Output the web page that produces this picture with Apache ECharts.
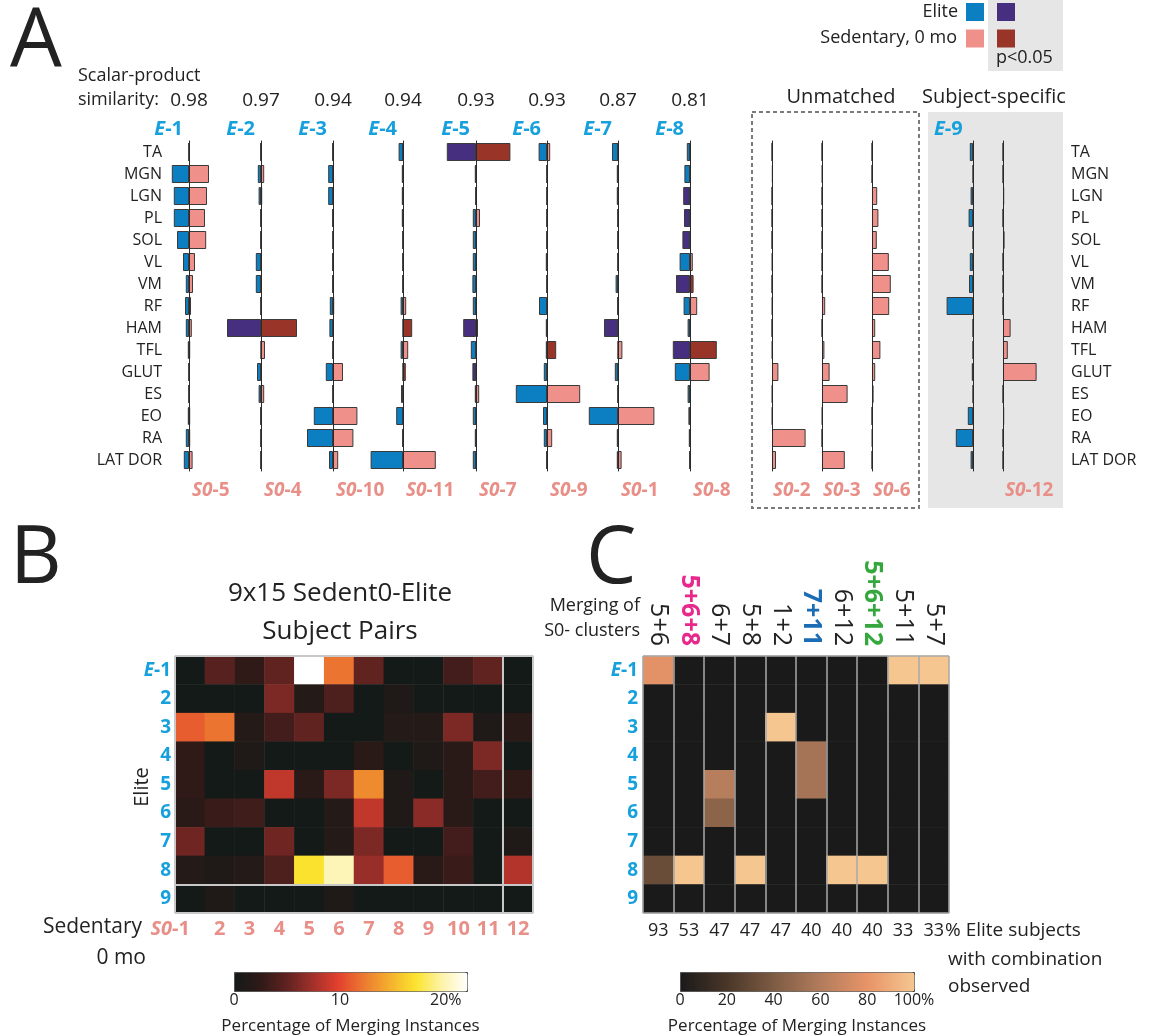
<!DOCTYPE html>
<html><head><meta charset="utf-8">
<script src="https://cdn.jsdelivr.net/npm/echarts@6/dist/echarts.min.js"></script>
<style>html,body{margin:0;padding:0;background:#fff;}#c{width:1158px;height:1036px;}</style>
</head><body><div id="c"></div>
<script>
// ---------------- DATA ----------------
const muscles = ['TA','MGN','LGN','PL','SOL','VL','VM','RF','HAM','TFL','GLUT','ES','EO','RA','LAT DOR'];
const similarity = ['0.98','0.97','0.94','0.94','0.93','0.93','0.87','0.81'];
const matchedElite = ['E-1','E-2','E-3','E-4','E-5','E-6','E-7','E-8'];
const matchedSed = ['S0-5','S0-4','S0-10','S0-11','S0-7','S0-9','S0-1','S0-8'];
// synergy weights (elite drawn to the left, sedentary to the right)
const eliteW = [
  [0,0.43,0.38,0.38,0.30,0.15,0.08,0.10,0.08,0.03,0,0,0.03,0.08,0.13],
  [0.01,0.08,0.06,0.01,0.01,0.13,0.13,0,0.85,0,0.10,0.06,0.01,0,0],
  [0.01,0.12,0.12,0.01,0,0.01,0.01,0.08,0.09,0,0.18,0,0.48,0.65,0.10],
  [0.11,0.03,0.03,0.03,0,0,0,0.06,0,0.06,0,0.05,0.17,0.01,0.81],
  [0.73,0.03,0.01,0.08,0.08,0.08,0.09,0.08,0.32,0.13,0.09,0.03,0.08,0.03,0.08],
  [0.21,0,0,0,0,0.03,0,0.20,0.03,0.03,0.08,0.78,0.10,0.08,0.01],
  [0.15,0.03,0.03,0,0,0,0.06,0.01,0.35,0,0.08,0,0.73,0.03,0.03],
  [0.08,0.14,0.17,0.15,0.19,0.26,0.35,0.16,0.06,0.43,0.38,0.06,0.04,0.03,0.01]
];
const sedW = [
  [0,0.50,0.45,0.40,0.43,0.15,0.10,0.05,0.07,0.03,0,0,0.03,0.03,0.09],
  [0.01,0.08,0.03,0.01,0.01,0,0,0,0.90,0.10,0.01,0.08,0.01,0,0],
  [0.01,0,0,0,0,0,0,0.03,0,0,0.25,0,0.61,0.51,0.13],
  [0,0,0,0,0,0,0,0.08,0.23,0.13,0.07,0.01,0,0,0.82],
  [0.86,0,0,0.10,0,0,0.01,0,0.05,0.01,0,0.08,0,0,0],
  [0.08,0,0,0,0,0,0,0.01,0,0.23,0.01,0.83,0.01,0.13,0],
  [0,0,0,0,0,0,0,0,0,0.11,0,0,0.91,0,0.09],
  [0,0,0,0,0,0.07,0.09,0.18,0,0.67,0.49,0,0,0,0]
];
// indices of muscles with p<0.05
const eliteSig = [[],[8],[],[],[0,8,10],[],[8],[2,3,4,6,9]];
const sedSig   = [[],[8],[],[8,10],[0,8],[9],[],[6,9]];
const unmatchedSed = ['S0-2','S0-3','S0-6'];
const unmatchedW = [
  [0,0.02,0,0,0,0.01,0,0.01,0,0.01,0.16,0.01,0.01,0.84,0.10],
  [0,0.01,0,0,0,0,0,0.08,0,0.06,0.19,0.64,0.01,0,0.57],
  [0,0,0.13,0.16,0.12,0.42,0.47,0.43,0.08,0.21,0.08,0.04,0,0.01,0]
];
const specificElite = 'E-9';
const specificEliteW = [0.08,0,0.06,0.11,0,0.08,0.10,0.66,0,0,0.03,0,0.13,0.43,0.06];
const specificSed = 'S0-12';
const specificSedW = [0,0,0.03,0,0.04,0,0,0,0.19,0.12,0.84,0,0.03,0,0];

// Panel B
const sedClusters = ['S0-1','2','3','4','5','6','7','8','9','10','11','12'];
const eliteSubjects = ['E-1','2','3','4','5','6','7','8','9'];
const pairPct = [
  [0,4.5,2.5,5,22,12,5,0,0,3.5,5,0],
  [0,0,0,6,1.5,4,0,1,0,0,0,0],
  [11,12,1.5,3.5,5,0,0,1.5,1.5,6,1,2],
  [2.5,0,1,0,0,0,2,0,1,2,6,0],
  [2.5,0,0,8.5,2,6,13,1,0,2,3.5,2.5],
  [2,3,3.3,0,0,1.5,8.5,1,6.5,2,0,0],
  [5.5,0,0,5.5,0,1.5,6,0,0,3.5,0,1],
  [1.5,1,1.5,4,17,20,7,11,2,3,0,8],
  [0,1,0,0,0,1,0,0,0,0,0,0]
];
const pairTicks = [0,10,20];

// Panel C
const combos = ['5+6','5+6+8','6+7','5+8','1+2','7+11','6+12','5+6+12','5+11','5+7'];
const comboSubjectPct = ['93','53','47','47','47','40','40','40','33','33'];
const comboPct = [
  [78,0,0,0,0,0,0,0,100,100],
  [0,0,0,0,0,0,0,0,0,0],
  [0,0,0,0,100,0,0,0,0,0],
  [0,0,0,0,0,55,0,0,0,0],
  [0,0,62,0,0,55,0,0,0,0],
  [0,0,45,0,0,0,0,0,0,0],
  [0,0,0,0,0,0,0,0,0,0],
  [32,100,0,100,0,0,100,100,0,0],
  [0,0,0,0,0,0,0,0,0,0]
];

// ---------------- STYLE / LAYOUT ----------------
const FONT = '"Open Sans", "Noto Sans", sans-serif';
const BLUE='#0b7fc1', PURPLE='#472f7f', PINK='#f0908a', DRED='#993429';
const LBLUE='#16a0dc', LPINK='#e88f88';
const HILITE = {'5+6+8':'#e8288a','7+11':'#1a6db4','5+6+12':'#34a83c'};
const SCALE = 40;             // px per unit weight
const A_TOP = 141, A_H = 330;
const colX = [189,261,333,403,476,547,618,690];
const unmatchedX = [772,822,872];
const e9X = 973, s12X = 1003;

const grids=[], xAxes=[], yAxes=[], series=[], graphics=[];
function addGrid(g, xa, ya){
  const gi=grids.length; grids.push(g);
  xa.gridIndex=gi; ya.gridIndex=gi; xAxes.push(xa); yAxes.push(ya);
  return {gi, xi:xAxes.length-1, yi:yAxes.length-1};
}
function barColumn(cx, eVals, sVals, eSig, sSig){
  const {xi, yi} = addGrid({left:cx-SCALE, top:A_TOP, width:2*SCALE, height:A_H},
    {type:'value', min:-1, max:1, show:false},
    {type:'category', data:muscles, inverse:true, z:3,
     axisLine:{show:true,onZero:true,lineStyle:{color:'#2a2a2a',width:1}},
     axisTick:{show:false}, axisLabel:{show:false}, splitLine:{show:false}});
  const common = {type:'bar', xAxisIndex:xi, yAxisIndex:yi, barWidth:18, barGap:'-100%',
    silent:true, animation:false, itemStyle:{borderColor:'#3a3a3a', borderWidth:1}};
  if (eVals) series.push(Object.assign({}, common, {
    data: eVals.map((v,i)=>({value:-v, itemStyle:{color:(eSig||[]).includes(i)?PURPLE:BLUE}}))}));
  if (sVals) series.push(Object.assign({}, common, {
    data: sVals.map((v,i)=>({value:v, itemStyle:{color:(sSig||[]).includes(i)?DRED:PINK}}))}));
}
function txt(x,y,text,o){
  o=o||{};
  const st = {text, fill:o.fill||'#222', fontSize:o.size||18, fontFamily:FONT,
    fontWeight:o.weight||'normal', fontStyle:o.italic?'italic':'normal',
    align:o.align||'left', verticalAlign:'middle', textAlign:o.align||'left', textVerticalAlign:'middle'};
  if (o.rich) st.rich=o.rich;
  graphics.push({type:'text', x, y, rotation:o.rot||0, silent:true, z:5, style:st});
}
function richLabel(lbl, color, size){
  const m = lbl.match(/^(E|S0)(-\d+)$/);
  return {text:'{i|'+m[1]+'}{b|'+m[2]+'}', rich:{
    i:{fontStyle:'italic',fontWeight:'bold',fill:color,fontSize:size,fontFamily:FONT},
    b:{fontWeight:'bold',fill:color,fontSize:size,fontFamily:FONT}}};
}

// ---------------- PANEL A ----------------
graphics.push({type:'rect', z:-1, silent:true, shape:{x:928,y:112,width:135,height:396}, style:{fill:'#e6e6e6'}});
graphics.push({type:'rect', z:-1, silent:true, shape:{x:988,y:0,width:75,height:71}, style:{fill:'#e6e6e6'}});
graphics.push({type:'rect', z:1, silent:true, shape:{x:752,y:112,width:167,height:396},
  style:{fill:'none', stroke:'#7a7a7a', lineWidth:2, lineDash:[4,3]}});
[[966,3,BLUE],[997,3,PURPLE],[966,29.5,PINK],[997,29.5,DRED]].forEach(r=>{
  graphics.push({type:'rect', silent:true, z:2, shape:{x:r[0],y:r[1],width:18,height:18}, style:{fill:r[2]}});
});
txt(958,12,'Elite',{align:'right'});
txt(957,38,'Sedentary, 0 mo',{align:'right'});
txt(996,58,'p<0.05',{});
txt(10,44,'A',{size:82});
txt(78,76,'Scalar-product',{});
txt(78,100,'similarity:',{});
txt(841,97,'Unmatched',{size:20,align:'center'});
txt(994,97,'Subject-specific',{size:20,align:'center'});

addGrid({left:170, top:A_TOP, width:1, height:A_H},
  {type:'value', min:0, max:1, show:false},
  {type:'category', data:muscles, inverse:true, position:'left', axisLine:{show:false}, axisTick:{show:false},
   axisLabel:{color:'#222', fontSize:16, fontFamily:FONT, margin:8}});
addGrid({left:1062, top:A_TOP, width:1, height:A_H},
  {type:'value', min:0, max:1, show:false},
  {type:'category', data:muscles, inverse:true, position:'right', axisLine:{show:false}, axisTick:{show:false},
   axisLabel:{color:'#222', fontSize:16, fontFamily:FONT, margin:8}});

matchedElite.forEach((e,k)=>{
  const cx = colX[k];
  barColumn(cx, eliteW[k], sedW[k], eliteSig[k], sedSig[k]);
  txt(cx,101,similarity[k],{size:19,align:'center'});
  const r1 = richLabel(e, LBLUE, 20); txt(cx-6,129,r1.text,{align:'right',rich:r1.rich});
  const r2 = richLabel(matchedSed[k], LPINK, 19); txt(cx+3,491,r2.text,{align:'left',rich:r2.rich});
});
unmatchedSed.forEach((s,k)=>{
  barColumn(unmatchedX[k], null, unmatchedW[k], null, null);
  const r = richLabel(s, LPINK, 19); txt(unmatchedX[k]+1,491,r.text,{rich:r.rich});
});
barColumn(e9X, specificEliteW, null, null, null);
barColumn(s12X, null, specificSedW, null, null);
{ const r = richLabel(specificElite, LBLUE, 20); txt(934,129,r.text,{rich:r.rich});
  const r2 = richLabel(specificSed, LPINK, 19); txt(s12X+2,491,r2.text,{rich:r2.rich}); }

// ---------------- PANEL B ----------------
txt(10,560,'B',{size:80});
txt(340,594,'9x15 Sedent0-Elite',{size:26,align:'center'});
txt(340,632,'Subject Pairs',{size:26,align:'center'});
txt(142,927,'Sedentary',{size:21,align:'right'});
txt(146,958,'0 mo',{size:21,align:'right'});
txt(142,787,'Elite',{size:20,align:'center',rot:Math.PI/2});

const yRich = {
  i:{fontStyle:'italic',fontWeight:'bold',color:LBLUE,fontSize:19,fontFamily:FONT},
  b:{fontWeight:'bold',color:LBLUE,fontSize:19,fontFamily:FONT}};
const yFmt = v => v.startsWith('E-') ? '{i|E}{b|-'+v.slice(2)+'}' : '{b|'+v+'}';
const GRIDLINE = {color:'#c8c8c8', width:2};

const HB = {left:175, top:656, width:358, height:257};
const gB = addGrid(HB,
  {type:'category', data:sedClusters.map((s,i)=> i===0 ? {value:s, textStyle:{align:'right'}} : s),
   position:'bottom', z:5,
   axisLine:{show:false}, axisTick:{show:false},
   splitLine:{show:true, interval:(i)=> i===0 || i===11, lineStyle:GRIDLINE},
   axisLabel:{interval:0, margin:6, formatter: v => v.startsWith('S0-') ? '{i|S0}{b|-'+v.slice(3)+'}' : '{b|'+v+'}',
     rich:{i:{fontStyle:'italic',fontWeight:'bold',color:LPINK,fontSize:20,fontFamily:FONT},
           b:{fontWeight:'bold',color:LPINK,fontSize:20,fontFamily:FONT}}}},
  {type:'category', data:eliteSubjects, inverse:true, z:5,
   axisLine:{show:false}, axisTick:{show:false},
   splitLine:{show:true, interval:(i)=> i===0 || i===8, lineStyle:GRIDLINE},
   axisLabel:{interval:0, margin:4, formatter:yFmt, rich:yRich}});
const bData=[]; pairPct.forEach((row,r)=>row.forEach((v,c)=>bData.push([c,r,v])));
const bSeriesIdx = series.length;
series.push({type:'heatmap', xAxisIndex:gB.xi, yAxisIndex:gB.yi, data:bData, silent:true, animation:false});

addGrid({left:234, top:972, width:233, height:19},
  {type:'value', min:0, max:22, interval:10, axisLine:{show:false}, axisTick:{show:false}, splitLine:{show:false},
   axisLabel:{showMaxLabel:false, margin:6, color:'#222', fontSize:16, fontFamily:FONT,
     formatter: v => v===pairTicks[pairTicks.length-1] ? v+'%' : String(v)},
   name:'Percentage of Merging Instances', nameLocation:'middle', nameGap:32,
   nameTextStyle:{color:'#222', fontSize:17, fontFamily:FONT}},
  {type:'value', show:false});

// ---------------- PANEL C ----------------
txt(586,560,'C',{size:80});
txt(640,606,'Merging of',{size:18,align:'right'});
txt(640,631,'S0- clusters',{size:18,align:'right'});
txt(945,931,'% Elite subjects',{size:19});
txt(948,960,'with combination',{size:19});
txt(948,987,'observed',{size:19});

const HC = {left:643, top:656, width:306, height:257};
const gC = addGrid(HC,
  {type:'category', position:'top', z:5,
   data: combos.map(c => HILITE[c] ? {value:c, textStyle:{color:HILITE[c], fontWeight:'bold'}} : c),
   axisLine:{show:false}, axisTick:{show:false},
   splitLine:{show:true, interval:0, lineStyle:{color:'#a8a8a8', width:1.5}},
   axisLabel:{interval:0, rotate:90, margin:10, color:'#222', fontSize:25, fontFamily:FONT}},
  {type:'category', data:eliteSubjects, inverse:true, z:5,
   axisLine:{show:false}, axisTick:{show:false},
   splitLine:{show:true, interval:(i)=> i===0, lineStyle:{color:'#a8a8a8', width:1.5}},
   axisLabel:{interval:0, margin:5, formatter:yFmt, rich:yRich}});
xAxes.push({type:'category', gridIndex:gC.gi, position:'bottom', data:comboSubjectPct,
  axisLine:{show:false}, axisTick:{show:false},
  axisLabel:{interval:0, margin:9, color:'#222', fontSize:18, fontFamily:FONT}});
const cData=[]; comboPct.forEach((row,r)=>row.forEach((v,c)=>cData.push([c,r,v])));
const cSeriesIdx = series.length;
series.push({type:'heatmap', xAxisIndex:gC.xi, yAxisIndex:gC.yi, data:cData, silent:true, animation:false});

addGrid({left:680, top:972, width:234, height:19},
  {type:'value', min:0, max:100, interval:20, axisLine:{show:false}, axisTick:{show:false}, splitLine:{show:false},
   axisLabel:{margin:6, color:'#222', fontSize:16, fontFamily:FONT, formatter: v => v===100 ? '100%' : String(v)},
   name:'Percentage of Merging Instances', nameLocation:'middle', nameGap:32,
   nameTextStyle:{color:'#222', fontSize:17, fontFamily:FONT}},
  {type:'value', show:false});

// ---------------- CHART ----------------
const chart = echarts.init(document.getElementById('c'), null, {renderer:'canvas'});
chart.setOption({
  backgroundColor:'#fff',
  animation:false,
  textStyle:{fontFamily:FONT},
  grid:grids, xAxis:xAxes, yAxis:yAxes, series:series,
  visualMap:[
    {type:'continuous', seriesIndex:bSeriesIdx, min:0, max:22, orient:'horizontal', left:234, top:972,
     itemWidth:19, itemHeight:233, calculable:false, hoverLink:false, padding:0,
     borderColor:'#444', borderWidth:1,
     inRange:{color:['#141a18','#2e1a18','#5e2220','#a0302a','#e2402e','#ec7a30','#f4b02e','#fbe42e','#fdf3a8','#ffffff']}},
    {type:'continuous', seriesIndex:cSeriesIdx, min:0, max:100, orient:'horizontal', left:680, top:972,
     itemWidth:19, itemHeight:234, calculable:false, hoverLink:false, padding:0,
     borderColor:'#444', borderWidth:1,
     inRange:{color:['#1a1a1a','#4a3628','#7e5c44','#b27c5c','#e89468','#f5c690']}}
  ],
  graphic:{elements:graphics}
});
</script></body></html>
